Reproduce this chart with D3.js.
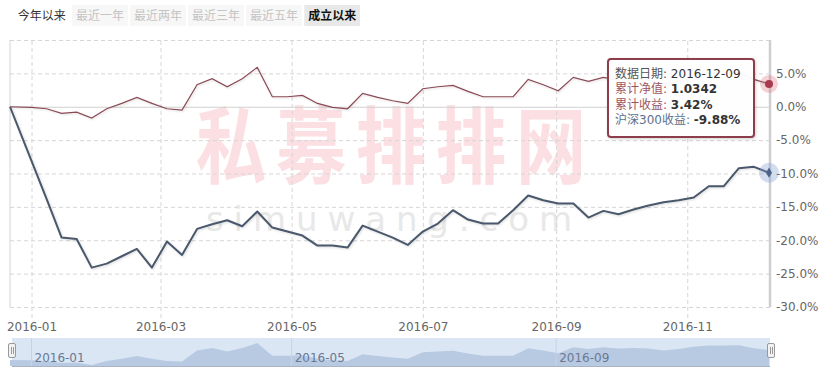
<!DOCTYPE html>
<html><head><meta charset="utf-8">
<script src="https://cdn.jsdelivr.net/npm/d3@7/dist/d3.min.js"></script>
<style>
html,body{margin:0;padding:0;background:#fff;}
svg{display:block;font-family:"DejaVu Sans","Noto Sans CJK SC",sans-serif;}
</style></head><body>
<svg id="chart" width="821" height="372"></svg>
<script>
// ---------- data ----------
const dates = ["2015-12-22","2016-01-01","2016-01-08","2016-01-15","2016-01-22","2016-01-29",
"2016-02-05","2016-02-12","2016-02-19","2016-02-26","2016-03-04","2016-03-11","2016-03-18","2016-03-25",
"2016-04-01","2016-04-08","2016-04-15","2016-04-22","2016-04-29","2016-05-06","2016-05-13","2016-05-20","2016-05-27",
"2016-06-03","2016-06-10","2016-06-17","2016-06-24","2016-07-01","2016-07-08","2016-07-15","2016-07-22","2016-07-29",
"2016-08-05","2016-08-12","2016-08-19","2016-08-26","2016-09-02","2016-09-09","2016-09-16","2016-09-23","2016-09-30",
"2016-10-07","2016-10-14","2016-10-21","2016-10-28","2016-11-04","2016-11-11","2016-11-18","2016-11-25","2016-12-02","2016-12-09"];
// 累计收益 (%)
const fundReturn = [0,-0.1,-0.3,-1.0,-0.8,-1.7,
-0.3,0.5,1.4,0.5,-0.3,-0.5,3.3,4.2,
3.0,4.2,5.9,1.5,1.5,1.7,0.5,-0.1,-0.3,
2.0,1.4,0.9,0.5,2.7,3.0,3.2,2.3,1.5,
1.5,1.5,4.1,3.3,2.4,4.4,3.8,4.4,4.0,
4.2,4.0,3.3,3.8,4.6,5.0,5.0,5.1,4.1,3.42];
// 沪深300收益 (%)
const hs300Return = [0,-8.1,-13.8,-19.6,-19.8,-24.1,
-23.5,-22.4,-21.3,-24.1,-20.2,-22.2,-18.3,-17.6,
-17.0,-17.9,-15.7,-18.1,-18.7,-19.3,-20.8,-20.8,-21.1,
-17.8,-18.7,-19.6,-20.7,-18.7,-17.5,-15.5,-16.9,-17.5,
-17.5,-15.5,-13.3,-14.0,-14.5,-14.5,-16.6,-15.6,-16.1,
-15.4,-14.8,-14.3,-14.0,-13.6,-11.9,-11.9,-9.2,-9.0,-9.88];
const yTicks = [-30,-25,-20,-15,-10,-5,0,5,10];
const yLabelTicks = [-30,-25,-20,-15,-10,-5,0,5];
const xTickDates = ["2016-01-01","2016-03-01","2016-05-01","2016-07-01","2016-09-01","2016-11-01"];
const navTickDates = ["2016-01-01","2016-05-01","2016-09-01"];
const buttons = ["今年以来","最近一年","最近两年","最近三年","最近五年","成立以来"];
const buttonState = ["normal","disabled","disabled","disabled","disabled","selected"];
const tipDate = "2016-12-09", tipNav = "1.0342", tipFund = "3.42%", tipHs = "-9.88%";
const watermarkChars = ["私","募","排","排","网"];
const watermarkUrl = "simuwang.com";

// ---------- setup ----------
const parse = d3.timeParse("%Y-%m-%d");
const pts = dates.map((d,i)=>({date:parse(d), f:fundReturn[i], h:hs300Return[i]}));
const svg = d3.select("#chart");
const L=10, R=769, T=40, B=307;
const x = d3.scaleTime().domain(d3.extent(pts,d=>d.date)).range([L,R]);
const y = d3.scaleLinear().domain([-30,10]).range([B,T]);

const defs = svg.append("defs");
const sh = defs.append("filter").attr("id","sh").attr("x","-20%").attr("y","-20%").attr("width","140%").attr("height","140%");
sh.append("feDropShadow").attr("dx",1).attr("dy",1).attr("stdDeviation",1).attr("flood-color","#000").attr("flood-opacity",0.15);
const tsh = defs.append("filter").attr("id","tsh").attr("x","-20%").attr("y","-20%").attr("width","140%").attr("height","140%");
tsh.append("feDropShadow").attr("dx",1).attr("dy",1).attr("stdDeviation",1.5).attr("flood-color","#000").attr("flood-opacity",0.18);

// ---------- buttons ----------
const bx = d3.scaleBand().domain(buttons).range([14,360]).paddingInner(0.04);
const bg = svg.append("g");
buttons.forEach((b,i)=>{
  const st = buttonState[i];
  if(st!=="normal"){
    bg.append("rect").attr("x",bx(b)).attr("y",5).attr("width",bx.bandwidth()).attr("height",21)
      .attr("fill", st==="selected" ? "#e8e8e8" : "#f7f7f7");
  }
  bg.append("text").attr("x",bx(b)+bx.bandwidth()/2).attr("y",20).attr("text-anchor","middle")
    .attr("font-family","Noto Sans CJK SC").attr("font-size",12)
    .attr("font-weight", st==="selected"?"bold":"normal")
    .attr("fill", st==="selected" ? "#111" : st==="normal" ? "#333" : "#c4c4c4").text(b);
});

// ---------- watermark ----------
const wm = svg.append("g");
const wmx = d3.scalePoint().domain(d3.range(watermarkChars.length)).range([231,551]);
watermarkChars.forEach((c,i)=>{
  wm.append("text").attr("transform",`translate(${wmx(i)},177) scale(0.84,1)`)
    .attr("text-anchor","middle").attr("font-family","Noto Sans CJK SC").attr("font-weight","bold")
    .attr("font-size",84).attr("fill","#e9505d").attr("fill-opacity",0.18).text(c);
});
wm.append("text").attr("x",206).attr("y",231).attr("textLength",366).attr("lengthAdjust","spacing")
  .attr("font-family","DejaVu Sans").attr("font-size",34).attr("fill","#e8e8e8").text(watermarkUrl);

// ---------- grid ----------
const gy = svg.append("g").attr("transform",`translate(${L},0)`)
  .call(d3.axisLeft(y).tickValues(yTicks).tickSize(-(R+1-L)).tickFormat(""));
gy.select(".domain").remove();
gy.selectAll(".tick line").attr("stroke",d=>d===0?"#d0d0d0":"#d6d6d6")
  .attr("stroke-dasharray",d=>d===0?null:"4,3");

const gx = svg.append("g").attr("transform",`translate(0,318)`)
  .call(d3.axisBottom(x).tickValues(xTickDates.map(parse)).tickSize(-(318-T)).tickPadding(4).tickFormat(d3.timeFormat("%Y-%m")));
gx.select(".domain").remove();
gx.selectAll(".tick line").attr("stroke","#d6d6d6").attr("stroke-dasharray","4,3");
gx.selectAll(".tick text").attr("font-size",12).attr("fill","#666").attr("font-family","DejaVu Sans");

// frame
svg.append("line").attr("x1",L).attr("x2",L).attr("y1",T).attr("y2",B).attr("stroke","#d4d4d4");
svg.append("line").attr("x1",L).attr("x2",R+3).attr("y1",B+0.5).attr("y2",B+0.5).attr("stroke","#c8c8c8").attr("stroke-width",1.5).attr("filter","url(#sh)");

// y labels
const ya = svg.append("g").attr("transform",`translate(772,0)`)
  .call(d3.axisRight(y).tickValues(yLabelTicks).tickSize(0).tickPadding(4).tickFormat(v=>v.toFixed(1)+"%"));
ya.select(".domain").remove();
ya.selectAll(".tick text").attr("font-size",12).attr("fill","#666").attr("font-family","DejaVu Sans");

// crosshair
svg.append("line").attr("x1",x(pts[pts.length-1].date)+1).attr("x2",x(pts[pts.length-1].date)+1)
  .attr("y1",T).attr("y2",B).attr("stroke","#cfcfd3").attr("stroke-width",2.5);

// ---------- lines ----------
const lineF = d3.line().x(d=>x(d.date)).y(d=>y(d.f));
const lineH = d3.line().x(d=>x(d.date)).y(d=>y(d.h));
svg.append("path").datum(pts).attr("d",lineF).attr("fill","none").attr("stroke","#8a4a55").attr("stroke-width",1.2).attr("filter","url(#sh)");
svg.append("path").datum(pts).attr("d",lineH).attr("fill","none").attr("stroke","#4a586b").attr("stroke-width",2).attr("stroke-linejoin","round").attr("filter","url(#sh)");

// markers
const last = pts[pts.length-1];
svg.append("circle").attr("cx",x(last.date)).attr("cy",y(last.f)).attr("r",9).attr("fill","#d9697c").attr("fill-opacity",0.3);
svg.append("circle").attr("cx",x(last.date)).attr("cy",y(last.f)).attr("r",4).attr("fill","#a83a4e");
svg.append("circle").attr("cx",x(last.date)).attr("cy",y(last.h)).attr("r",10).attr("fill","#7d9fd0").attr("fill-opacity",0.35);
svg.append("path").attr("transform",`translate(${x(last.date)},${y(last.h)})`)
  .attr("d",d3.symbol(d3.symbolDiamond,30)()).attr("fill","#4a6288");

// ---------- tooltip ----------
const tg = svg.append("g").attr("transform","translate(608,59)");
tg.append("rect").attr("width",146).attr("height",78).attr("rx",3).attr("fill","#fff").attr("fill-opacity",0.95)
  .attr("stroke","#8e3e4b").attr("stroke-width",2).attr("filter","url(#tsh)");
const rows = [["数据日期: ",tipDate,"#555",false],["累计净值: ",tipNav,"#9a5561",true],["累计收益: ",tipFund,"#9a5561",true],["沪深300收益: ",tipHs,"#5d708e",true]];
rows.forEach((r,i)=>{
  const t = tg.append("text").attr("x",7).attr("y",19+i*15.3).attr("font-size",12);
  t.append("tspan").attr("fill",r[2]).text(r[0]);
  t.append("tspan").attr("fill","#333").attr("font-weight",r[3]?"bold":"normal").text(r[1]);
});

// ---------- navigator ----------
const NT=338, NB=366;
const ny = d3.scaleLinear().domain(d3.extent(pts,d=>d.f)).range([NB-1,NT+5]);
const ng = svg.append("g");
ng.append("rect").attr("x",12).attr("y",NT).attr("width",758).attr("height",NB-NT).attr("fill","#dae6f4");
ng.append("path").datum(pts).attr("d",d3.area().x(d=>x(d.date)).y0(NB).y1(d=>ny(d.f))).attr("fill","#b8cae2");
ng.selectAll(".ng").data(navTickDates.map(parse)).join("line").attr("x1",d=>x(d)).attr("x2",d=>x(d))
  .attr("y1",NT).attr("y2",NB).attr("stroke","#c5d3e6").attr("stroke-width",1);
ng.selectAll(".nt").data(navTickDates.map(parse)).join("text").attr("x",d=>x(d)+3).attr("y",362)
  .attr("font-size",12).attr("font-family","DejaVu Sans").attr("fill","#6b7892").text(d3.timeFormat("%Y-%m"));
ng.append("line").attr("x1",12).attr("x2",770).attr("y1",NB+0.5).attr("y2",NB+0.5).attr("stroke","#aab4c4");
[8,767].forEach(hx=>{
  ng.append("rect").attr("x",hx+0.5).attr("y",343.5).attr("width",7).attr("height",14).attr("rx",1.5)
    .attr("fill","#f2f2f2").attr("stroke","#999");
  [hx+3,hx+5].forEach(lx=>ng.append("line").attr("x1",lx+0.5).attr("x2",lx+0.5).attr("y1",347).attr("y2",354).attr("stroke","#999"));
});
</script></body></html>
